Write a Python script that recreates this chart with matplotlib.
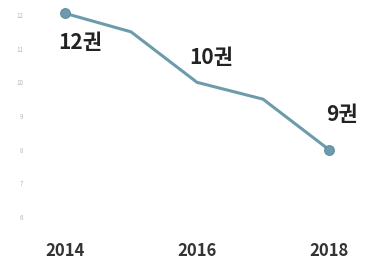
import matplotlib
matplotlib.use("Agg")
import matplotlib.pyplot as plt

years = [2014, 2015, 2016, 2017, 2018]
books = [12.05, 11.5, 10.0, 9.5, 8.0]
marker_years = [2014, 2018]
marker_values = [12.05, 8.0]
annot_years = [2014, 2016, 2018]
annot_values = [12.05, 10.0, 8.0]
annot_labels = ["12권", "10권", "9권"]
xtick_years = [2014, 2016, 2018]
ytick_values = [6, 7, 8, 9, 10, 11, 12]

fam = ["Noto Sans CJK KR", "DejaVu Sans"]
plt.rcParams['font.family'] = fam

W, H = 366, 269
fig = plt.figure(figsize=(W / 100, H / 100), dpi=100)
ax = fig.add_axes([30 / W, 39 / H, 336 / W, 230 / H])

line_color = "#6d9bac"
ax.plot(years, books, color=line_color, lw=2.2, solid_joinstyle="round",
        solid_capstyle="round", zorder=2)
ax.plot(marker_years, marker_values, "o", color=line_color, ms=7,
        mec="#5d8ea2", mew=0.8, zorder=3)

offsets = [(10.8, -20.9), (10.0, 18.0), (9.4, 25.0)]
for x, y, t, (dx, dy) in zip(annot_years, annot_values, annot_labels, offsets):
    ax.annotate(t, (x, y), xytext=(dx, dy), textcoords="offset points",
                ha="center", va="center", fontsize=15, fontweight="bold",
                color="#222222")

ax.set_xlim(2014 - 35 / 66, 2018 + 37 / 66)
ax.set_ylim(6 - 13 / 33.67, 12 + 15 / 33.67)
ax.set_xticks(xtick_years)
ax.set_xticklabels([str(y) for y in xtick_years], fontsize=12,
                   fontweight="bold", color="#333333")
ax.set_yticks(ytick_values)
ax.set_yticklabels([str(v) for v in ytick_values], fontsize=4.5,
                   color="#b8b8b8")
ax.tick_params(axis="x", length=0, pad=9)
ax.tick_params(axis="y", length=0, pad=5)
for s in ax.spines.values():
    s.set_visible(False)

fig.savefig("out.png", dpi=100, facecolor="white")
